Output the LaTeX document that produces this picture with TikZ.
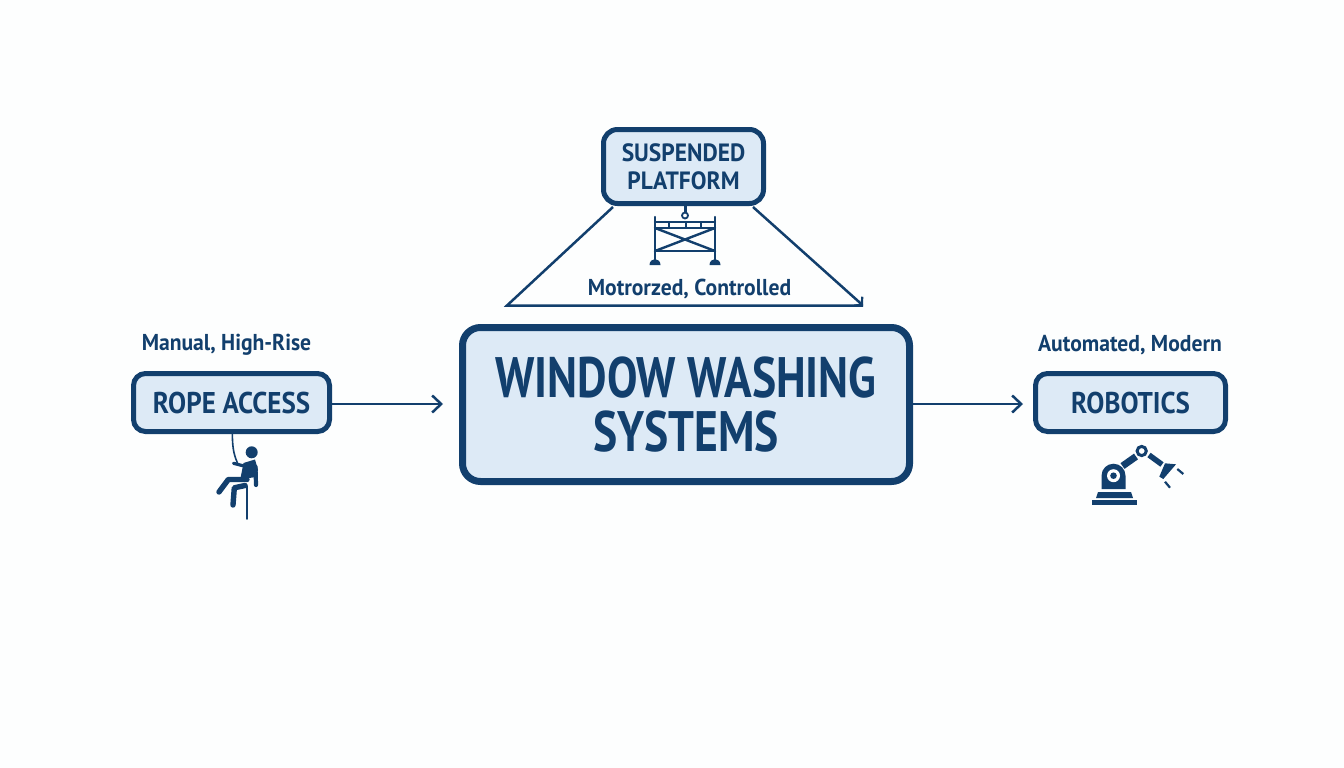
\documentclass[tikz,border=0pt]{standalone}
\usepackage{fontspec}
\setmainfont{PT Sans}
\newfontfamily\condA[FakeStretch=0.80]{PT Sans}
\newfontfamily\condB[FakeStretch=0.90]{PT Sans}
\newfontfamily\condC[FakeStretch=0.94]{PT Sans}
\usetikzlibrary{arrows.meta}
\definecolor{navy}{HTML}{123F6D}
\definecolor{pale}{HTML}{DDEAF6}
\definecolor{paper}{HTML}{FDFEFE}
\tikzset{
  box/.style={draw=navy,fill=pale,rounded corners=#1,align=center,text=navy,inner sep=0pt},
  lab/.style={text=navy,inner sep=0pt,font=\condC\bfseries\fontsize{23}{26}\selectfont},
  conn/.style={draw=navy,line width=2.5pt,line join=miter},
  tip/.style={-{Straight Barb[length=9pt,width=17pt,line width=2.5pt]}},
  ic/.style={draw=navy,line cap=round,line join=round}
}
\begin{document}
\begin{tikzpicture}[x=1pt,y=-1pt]
\useasboundingbox[fill=paper] (0,0) rectangle (1344,768);
% boxes
\node[box=18pt,line width=7pt,minimum width=447pt,minimum height=154pt,font=\condA\bfseries\fontsize{57}{54}\selectfont] (main) at (686,404.5)
  {WINDOW WASHING\\SYSTEMS};
\node[box=14pt,line width=5pt,minimum width=160pt,minimum height=74pt,font=\condC\bfseries\fontsize{25}{28}\selectfont] (susp) at (683.5,166.5)
  {SUSPENDED\\PLATFORM};
\node[box=12pt,line width=5pt,minimum width=196pt,minimum height=58pt,font=\condB\bfseries\fontsize{30}{32}\selectfont] (rope) at (231.5,402.5)
  {ROPE ACCESS};
\node[box=12pt,line width=5pt,minimum width=190pt,minimum height=58pt,font=\condB\bfseries\fontsize{30}{32}\selectfont] (robo) at (1130.5,402.5)
  {ROBOTICS};
% labels
\node[lab] (l1) at (226.5,345) {Manual, High-Rise};
\node[lab] (l2) at (1130,345) {Automated, Modern};
\node[lab] (l3) at (689.5,289) {Motrorzed, Controlled};
% connectors
\coordinate (a1) at (443,404);
\coordinate (a2) at (1023,404);
\coordinate (sl) at (613,207);
\coordinate (sr) at (753,207);
\coordinate (bl) at (507,305.5);
\coordinate (br) at (863,305.5);
\draw[conn,tip] (rope.east |- a1) -- (a1);
\draw[conn,tip] (main.east |- a2) -- (a2);
\draw[conn] (sl) -- (bl) -- (br);
\draw[conn,-{Straight Barb[length=5pt,width=12pt,line width=2.2pt]}] (sr) -- (br);
% scaffold icon
\begin{scope}[ic,line width=2.4pt]
\draw (655,217) -- (655,262) (715,217) -- (715,262);
\draw (655,222) -- (715,222) (655,228) -- (715,228) (655,251) -- (715,251);
\draw[line width=1.6pt] (669,222) -- (669,228) (686,222) -- (686,228) (701,222) -- (701,228);
\draw (655,228) -- (715,251) (715,228) -- (655,251);
\draw (685.5,206) -- (685.5,212);
\draw[line width=1.8pt] (685,215.5) circle (3pt);
\fill[navy,draw=none] (649.5,265) arc[start angle=180,end angle=360,radius=5.5pt,y radius=-6pt] -- cycle;
\fill[navy,draw=none] (709.5,265) arc[start angle=180,end angle=360,radius=5.5pt,y radius=-6pt] -- cycle;
\end{scope}
% climber icon
\begin{scope}[ic]
\draw[line width=1.6pt] (232.3,433) .. controls (232.5,445) and (233,453) .. (237.5,463);
\fill[navy,draw=none] (251.7,452.3) circle (6pt);
\draw[line width=3.2pt] (246.7,466.7) -- (233.5,463.3);
\fill[navy,draw=none] (243.5,463) -- (255,459.5) -- (258,470) -- (256,477) -- (249,478) -- (240.5,478) -- cycle;
\draw[line width=4.2pt] (255.5,466.7) -- (256,485);
\draw[line width=5.4pt] (247,479.5) -- (228.3,479.5) -- (219,492);
\draw[line width=5.4pt] (245,485.5) -- (234.3,487.8) -- (233,505);
\draw[line width=1.6pt] (246.7,486) -- (246.7,519);
\end{scope}
% robot icon
\begin{scope}
\fill[navy] (1091.7,500) rectangle (1137.3,504.5);
\fill[navy] (1098,492) -- (1131,492) -- (1133,498) -- (1096,498) -- cycle;
\fill[navy] (1101.5,489) -- (1101.5,475.7) arc[start angle=180,end angle=360,radius=12pt,y radius=-12pt] -- (1125.5,489) -- cycle;
\fill[white] (1113.5,475.7) circle (6.5pt);
\fill[navy] (1113.5,475.7) circle (3.3pt);
\draw[navy,line width=7pt] (1122.5,466) -- (1136,456.5);
\draw[navy,line width=3pt] (1141.7,451) circle (4.6pt);
\draw[navy,line width=5.5pt] (1149,455) -- (1162,464.5);
\fill[navy] (1165,463.3) -- (1176,464.3) -- (1163.3,479) -- (1159.3,476.7) -- cycle;
\draw[navy,line width=2.2pt] (1177.3,469) -- (1183.3,474) (1165,481.7) -- (1170,487.7);
\end{scope}
\end{tikzpicture}
\end{document}
